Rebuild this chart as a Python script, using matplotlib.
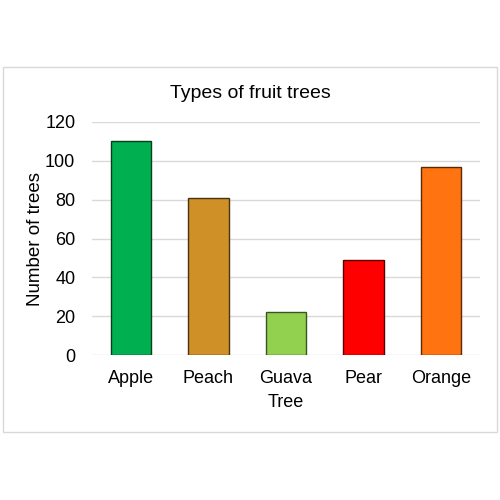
import matplotlib.pyplot as plt
from matplotlib.patches import Rectangle

plt.rcParams['font.family'] = ['Liberation Sans', 'DejaVu Sans']

fruits = ['Apple', 'Peach', 'Guava', 'Pear', 'Orange']
trees = [110, 81, 22, 49, 97]
fill_colors = ['#00B050', '#D09028', '#92D050', '#FF0000', '#FF7410']
edge_colors = ['#0a3d1e', '#4a3310', '#3a5520', '#5a0000', '#5a2a05']

fig = plt.figure(figsize=(5, 5), dpi=100)
ax = fig.add_axes([0.184, 0.29, 0.776, 0.466])

# outer chart frame
fig.patches.append(Rectangle((0.006, 0.136), 0.988, 0.73, transform=fig.transFigure,
                             fill=False, edgecolor='#d9d9d9', linewidth=1))

ax.bar(range(len(fruits)), trees, width=0.52, color=fill_colors,
       edgecolor=edge_colors, linewidth=1, zorder=3)

ax.set_xlim(-0.5, len(fruits) - 0.5)
ax.set_ylim(0, 120)
ax.set_yticks(range(0, 121, 20))
ax.set_xticks(range(len(fruits)))
ax.set_xticklabels(fruits)
ax.tick_params(length=0, labelsize=13, colors='black', pad=11)
ax.tick_params(axis='y', pad=12)
ax.grid(axis='y', color='#d9d9d9', linewidth=1, zorder=0)
for s in ax.spines.values():
    s.set_visible(False)

ax.set_xlabel('Tree', fontsize=13, labelpad=5)
ax.set_ylabel('Number of trees', fontsize=13.5, labelpad=1)
fig.text(0.5, 0.814, 'Types of fruit trees', fontsize=14, ha='center', va='center')

plt.savefig('out.png', dpi=100)
